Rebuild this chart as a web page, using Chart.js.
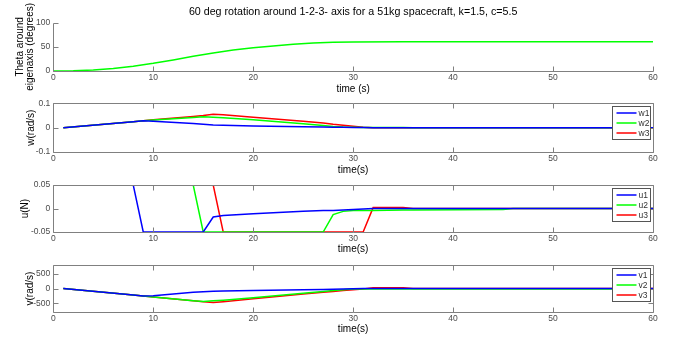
<!DOCTYPE html>
<html><head><meta charset="utf-8">
<script src="https://cdn.jsdelivr.net/npm/chart.js@4/dist/chart.umd.min.js"></script>
<style>
html,body{margin:0;padding:0;background:#fff;}
#wrap{position:relative;width:678px;height:338px;overflow:hidden;background:#fff;}
canvas{position:absolute;left:0;}
</style></head><body><div id="wrap">
<canvas id="c1" width="678" height="95" style="top:0px"></canvas>
<canvas id="c2" width="678" height="82" style="top:95px"></canvas>
<canvas id="c3" width="678" height="80" style="top:177px"></canvas>
<canvas id="c4" width="678" height="81" style="top:257px"></canvas>
</div>
<script>
// ---------- data ----------
const mainTitle = "60 deg rotation around 1-2-3- axis for a 51kg spacecraft, k=1.5, c=5.5";
const xTicks = [0, 10, 20, 30, 40, 50, 60];

const thetaTime  = [0, 2, 4, 6, 8, 10, 12, 14, 16, 18, 20, 22, 24, 26, 28, 30, 35, 60];
const thetaDeg   = [0, 0.5, 2, 5, 10, 16, 23, 30.5, 37.5, 43.5, 48, 52, 55.5, 58, 59.5, 60.2, 60.4, 60.4];
const thetaTicks = [0, 50, 100];

const time = [1, 8, 9, 10, 14, 15, 16, 17, 20, 25, 27, 28, 29, 30, 31, 32, 35, 36, 45, 46, 60];

const w1 = [0, 0.024, 0.028, 0.026, 0.017, 0.014, 0.011, 0.010, 0.007, 0.004, 0.003, 0.002, 0.002, 0.001, 0.001, 0, 0, 0, 0, 0, 0];
const w2 = [0, 0.024, 0.028, 0.031, 0.042, 0.045, 0.043, 0.041, 0.032, 0.016, 0.009, 0.005, 0.003, 0.002, 0.001, 0.001, 0.001, 0, 0, 0, 0];
const w3 = [0, 0.024, 0.028, 0.032, 0.046, 0.050, 0.055, 0.053, 0.043, 0.026, 0.019, 0.014, 0.010, 0.006, 0.002, 0, 0, 0, 0, 0, 0];
const wTicks = [-0.1, 0, 0.1];

const u1 = [0.05, 0.05, -0.05, -0.05, -0.05, -0.05, -0.018, -0.015, -0.011, -0.006, -0.004, -0.004, -0.003, -0.002, -0.001, 0, 0, 0, 0, 0, 0];
const u2 = [0.05, 0.05, 0.05, 0.05, 0.05, -0.05, -0.05, -0.05, -0.05, -0.05, -0.05, -0.013, -0.006, -0.004, -0.004, -0.004, -0.003, -0.003, -0.002, 0, 0];
const u3 = [0.05, 0.05, 0.05, 0.05, 0.05, 0.05, 0.05, -0.05, -0.05, -0.05, -0.05, -0.05, -0.05, -0.05, -0.05, 0.002, 0.002, 0, 0, 0, 0];
const uTicks = [-0.05, 0, 0.05];

const v1 = [0, -224, -256, -245, -130, -105, -92, -85, -68, -42, -30, -22, -14, -6, 0, 0, 0, 0, 0, 0, 0];
const v2 = [0, -224, -256, -288, -416, -445, -420, -398, -310, -160, -100, -70, -40, -18, -15, -15, -15, -15, -15, -15, -15];
const v3 = [0, -224, -256, -288, -416, -448, -480, -450, -350, -190, -130, -100, -70, -45, -15, 25, 25, 0, 0, 0, 0];
const vTicks = [-500, 0, 500];

// ---------- styling ----------
const AXIS = '#808080';
const TICKTXT = '#4a4a4a';
const FONT = "'Liberation Sans', Arial, sans-serif";
const BLUE = '#0000ff', GREEN = '#00ff00', RED = '#ff0000';

const boxPlugin = {
  id: 'mbox',
  afterDatasetsDraw(chart, args, opts) {
    const {ctx, chartArea: a, scales: {x, y}} = chart;
    ctx.save();
    ctx.strokeStyle = AXIS; ctx.lineWidth = 1;
    const L = Math.round(a.left) + 0.5, R = Math.round(a.right) + 0.5;
    const T = Math.round(a.top) + 0.5, B = Math.round(a.bottom) + 0.5;
    ctx.beginPath();
    if (opts.box) { ctx.rect(L, T, R - L, B - T); }
    else { ctx.moveTo(L, T); ctx.lineTo(L, B); ctx.lineTo(R, B); }
    x.ticks.forEach(t => {
      const px = Math.round(x.getPixelForValue(t.value)) + 0.5;
      ctx.moveTo(px, B); ctx.lineTo(px, B - 5);
      if (opts.box) { ctx.moveTo(px, T); ctx.lineTo(px, T + 5); }
    });
    y.ticks.forEach(t => {
      const py = Math.round(y.getPixelForValue(t.value)) + 0.5;
      ctx.moveTo(L, py); ctx.lineTo(L + 5, py);
      if (opts.box) { ctx.moveTo(R, py); ctx.lineTo(R - 5, py); }
    });
    ctx.stroke();
    ctx.restore();
  },
  afterDraw(chart, args, opts) {
    if (!opts.legend) return;
    const {ctx, chartArea: a} = chart;
    const ds = chart.data.datasets;
    const w = 38, h = 33;
    const x0 = Math.round(a.right - 3 - w) + 0.5, y0 = Math.round(a.top + 3) + 0.5;
    ctx.save();
    ctx.fillStyle = '#fff';
    ctx.fillRect(x0, y0, w, h);
    ctx.strokeStyle = '#555'; ctx.lineWidth = 1;
    ctx.strokeRect(x0, y0, w, h);
    ctx.font = "8.5px " + FONT;
    ctx.textBaseline = 'middle';
    ds.forEach((d, i) => {
      const yy = y0 + 6.5 + i * 10;
      ctx.strokeStyle = d.borderColor; ctx.lineWidth = 1.5;
      ctx.beginPath(); ctx.moveTo(x0 + 4, yy); ctx.lineTo(x0 + 24, yy); ctx.stroke();
      ctx.fillStyle = '#333';
      ctx.fillText(d.label, x0 + 26, yy + 0.5);
    });
    ctx.restore();
  }
};

function ds(label, xs, ys, color) {
  return {
    label, data: xs.map((t, i) => ({x: t, y: ys[i]})),
    borderColor: color, backgroundColor: color, borderWidth: 1.5,
    pointRadius: 0, tension: 0, fill: false, clip: 0
  };
}

function makeChart(id, cfg) {
  return new Chart(document.getElementById(id), {
    type: 'line',
    data: {datasets: cfg.datasets},
    plugins: [boxPlugin],
    options: {
      responsive: false, animation: false, events: [],
      layout: {padding: {left: 0, right: 25, top: cfg.padTop, bottom: 0}},
      plugins: {
        legend: {display: false}, tooltip: {enabled: false},
        title: cfg.title ? {
          display: true, text: cfg.title, fullSize: false, color: '#000',
          font: {family: FONT, size: 10.7, weight: 'normal', lineHeight: 1.2},
          padding: {top: 5.3, bottom: 4.6}
        } : {display: false},
        mbox: {box: cfg.box, legend: cfg.legend}
      },
      scales: {
        x: {
          type: 'linear', min: 0, max: 60,
          grid: {display: false, drawTicks: false}, border: {display: false},
          afterBuildTicks: s => { s.ticks = xTicks.map(v => ({value: v})); },
          afterFit: s => { s.height = cfg.xh; },
          ticks: {color: TICKTXT, font: {family: FONT, size: 8.5}, padding: 2, maxRotation: 0,
                  callback: v => String(v)},
          title: {display: true, text: cfg.xTitle, color: '#000',
                  font: {family: FONT, size: 10, lineHeight: 1.2}, padding: {top: 0, bottom: cfg.xtPad}}
        },
        y: {
          type: 'linear', min: cfg.ymin, max: cfg.ymax,
          grid: {display: false, drawTicks: false}, border: {display: false},
          afterBuildTicks: s => { s.ticks = cfg.yTicks.map(v => ({value: v})); },
          afterFit: s => { s.width = 53.3; },
          ticks: {color: TICKTXT, font: {family: FONT, size: 8.5}, padding: 3,
                  callback: v => String(v)},
          title: {display: true, text: cfg.yTitle, color: '#000',
                  font: {family: FONT, size: 10, lineHeight: cfg.yLH || 1.2}, padding: {top: cfg.ytPad, bottom: 0}}
        }
      }
    }
  });
}

makeChart('c1', {
  datasets: [ds('theta', thetaTime, thetaDeg, GREEN)],
  title: mainTitle, padTop: 0, xh: 24, xtPad: 0, box: false, legend: false,
  ymin: 0, ymax: 100, yTicks: thetaTicks,
  xTitle: 'time (s)', yTitle: ['Theta around', 'eigenaxis (degrees)'], yLH: 1.0, ytPad: 15.7
});
makeChart('c2', {
  datasets: [ds('w1', time, w1, BLUE), ds('w2', time, w2, GREEN), ds('w3', time, w3, RED)],
  padTop: 8.3, xh: 25, xtPad: 1, box: true, legend: true,
  ymin: -0.1, ymax: 0.1, yTicks: wTicks,
  xTitle: 'time(s)', yTitle: 'w(rad/s)', ytPad: 25.7
});
makeChart('c3', {
  datasets: [ds('u1', time, u1, BLUE), ds('u2', time, u2, GREEN), ds('u3', time, u3, RED)],
  padTop: 6.3, xh: 25, xtPad: 1.5, box: true, legend: true,
  ymin: -0.05, ymax: 0.05, yTicks: uTicks,
  xTitle: 'time(s)', yTitle: 'u(N)', ytPad: 19
});
makeChart('c4', {
  datasets: [ds('v1', time, v1, BLUE), ds('v2', time, v2, GREEN), ds('v3', time, v3, RED)],
  padTop: 6.3, xh: 26, xtPad: 3, box: true, legend: true,
  ymin: -800, ymax: 800, yTicks: vTicks,
  xTitle: 'time(s)', yTitle: 'v(rad/s)', ytPad: 24
});
</script></body></html>
